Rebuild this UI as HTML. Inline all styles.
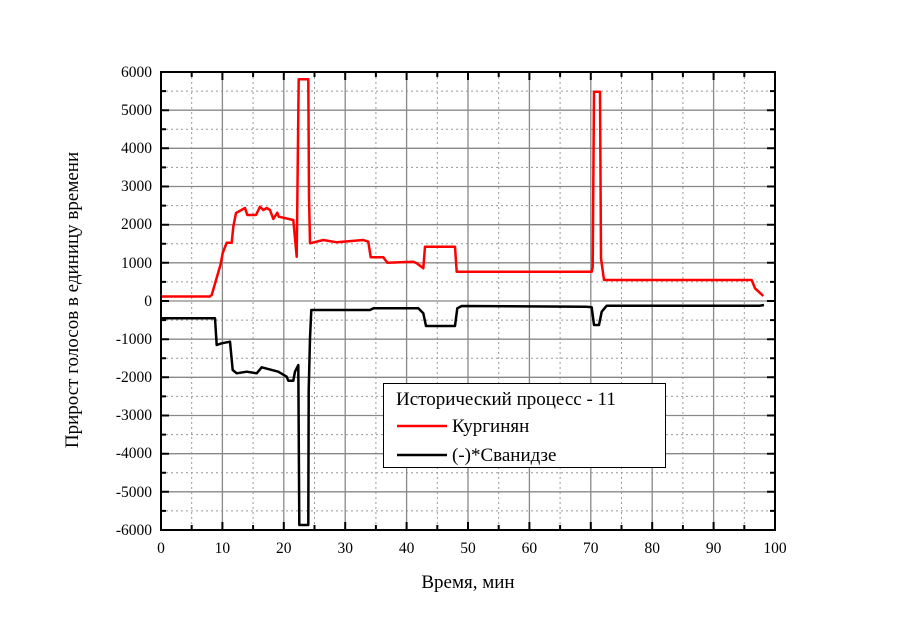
<!DOCTYPE html>
<html><head><meta charset="utf-8"><style>
body{margin:0;background:#fff}
svg{display:block}
text{font-family:"Liberation Serif",serif;fill:#000}
</style></head><body>
<svg width="900" height="636" viewBox="0 0 900 636" xmlns="http://www.w3.org/2000/svg">
<g stroke="#999" stroke-width="1" stroke-dasharray="2,3">
<line x1="191.7" y1="72" x2="191.7" y2="530"/><line x1="253.1" y1="72" x2="253.1" y2="530"/><line x1="314.5" y1="72" x2="314.5" y2="530"/><line x1="375.9" y1="72" x2="375.9" y2="530"/><line x1="437.3" y1="72" x2="437.3" y2="530"/><line x1="498.7" y1="72" x2="498.7" y2="530"/><line x1="560.1" y1="72" x2="560.1" y2="530"/><line x1="621.5" y1="72" x2="621.5" y2="530"/><line x1="682.9" y1="72" x2="682.9" y2="530"/><line x1="744.3" y1="72" x2="744.3" y2="530"/>
<line x1="161" y1="91.1" x2="775" y2="91.1"/><line x1="161" y1="129.2" x2="775" y2="129.2"/><line x1="161" y1="167.4" x2="775" y2="167.4"/><line x1="161" y1="205.6" x2="775" y2="205.6"/><line x1="161" y1="243.8" x2="775" y2="243.8"/><line x1="161" y1="281.9" x2="775" y2="281.9"/><line x1="161" y1="320.1" x2="775" y2="320.1"/><line x1="161" y1="358.3" x2="775" y2="358.3"/><line x1="161" y1="396.4" x2="775" y2="396.4"/><line x1="161" y1="434.6" x2="775" y2="434.6"/><line x1="161" y1="472.8" x2="775" y2="472.8"/><line x1="161" y1="510.9" x2="775" y2="510.9"/>
</g>
<g stroke="#888" stroke-width="1.3">
<line x1="222.4" y1="72" x2="222.4" y2="530"/><line x1="283.8" y1="72" x2="283.8" y2="530"/><line x1="345.2" y1="72" x2="345.2" y2="530"/><line x1="406.6" y1="72" x2="406.6" y2="530"/><line x1="468" y1="72" x2="468" y2="530"/><line x1="529.4" y1="72" x2="529.4" y2="530"/><line x1="590.8" y1="72" x2="590.8" y2="530"/><line x1="652.2" y1="72" x2="652.2" y2="530"/><line x1="713.6" y1="72" x2="713.6" y2="530"/>
<line x1="161" y1="110.2" x2="775" y2="110.2"/><line x1="161" y1="148.3" x2="775" y2="148.3"/><line x1="161" y1="186.5" x2="775" y2="186.5"/><line x1="161" y1="224.7" x2="775" y2="224.7"/><line x1="161" y1="262.8" x2="775" y2="262.8"/><line x1="161" y1="301" x2="775" y2="301"/><line x1="161" y1="339.2" x2="775" y2="339.2"/><line x1="161" y1="377.3" x2="775" y2="377.3"/><line x1="161" y1="415.5" x2="775" y2="415.5"/><line x1="161" y1="453.7" x2="775" y2="453.7"/><line x1="161" y1="491.8" x2="775" y2="491.8"/>
</g>
<g stroke="#000" stroke-width="2">
<path d="M222.4 530v-8M283.8 530v-8M345.2 530v-8M406.6 530v-8M468 530v-8M529.4 530v-8M590.8 530v-8M652.2 530v-8M713.6 530v-8M191.7 530v-5M253.1 530v-5M314.5 530v-5M375.9 530v-5M437.3 530v-5M498.7 530v-5M560.1 530v-5M621.5 530v-5M682.9 530v-5M744.3 530v-5"/>
<path d="M222.4 72v8M283.8 72v8M345.2 72v8M406.6 72v8M468 72v8M529.4 72v8M590.8 72v8M652.2 72v8M713.6 72v8M191.7 72v5M253.1 72v5M314.5 72v5M375.9 72v5M437.3 72v5M498.7 72v5M560.1 72v5M621.5 72v5M682.9 72v5M744.3 72v5"/>
<path d="M161 110.2h8M161 148.3h8M161 186.5h8M161 224.7h8M161 262.8h8M161 301h8M161 339.2h8M161 377.3h8M161 415.5h8M161 453.7h8M161 491.8h8M161 91.1h5M161 129.2h5M161 167.4h5M161 205.6h5M161 243.8h5M161 281.9h5M161 320.1h5M161 358.3h5M161 396.4h5M161 434.6h5M161 472.8h5M161 510.9h5"/>
<path d="M775 110.2h-8M775 148.3h-8M775 186.5h-8M775 224.7h-8M775 262.8h-8M775 301h-8M775 339.2h-8M775 377.3h-8M775 415.5h-8M775 453.7h-8M775 491.8h-8M775 91.1h-5M775 129.2h-5M775 167.4h-5M775 205.6h-5M775 243.8h-5M775 281.9h-5M775 320.1h-5M775 358.3h-5M775 396.4h-5M775 434.6h-5M775 472.8h-5M775 510.9h-5"/>
</g>
<polyline fill="none" stroke="#f00" stroke-width="2.5" stroke-linejoin="round" points="161,296.5 210,296.5 211.7,295 220.7,264 222.7,253 226.7,242.7 231.7,242.7 233.3,226.7 236,213 245,208 247.3,215 256,215 260,206.7 263.3,210 266.7,208 270,210 273.3,219 277.3,212.7 278.7,216.7 293.3,220 296.7,256.7 298.7,79.3 308.3,79.3 309,196.7 310,243.3 323.3,240 336.7,242.3 363.3,240 368.3,241.7 370.7,257.3 383.3,257.3 387.3,262.7 413.3,261.7 416.7,263.3 423.3,268.3 425,246.7 455,246.7 456.7,271.7 591.7,271.7 592.7,266.7 594,91.7 600,91.7 601,258.3 604,280 751.7,280 755,288.3 763.3,296"/>
<polyline fill="none" stroke="#000" stroke-width="2.5" stroke-linejoin="round" points="161.7,318.3 215,318.3 216.7,345 221.7,343.3 230,341.7 232.7,370 236.7,373.3 246.7,371.7 256.7,373.3 261.7,367.3 278.3,371.7 286.7,376.7 288.3,380.7 293.3,380.7 295,371.7 298.3,365 299.3,525 308.3,525 308.7,390 310,338.3 311.3,310 370,310 373.3,308.3 418.3,308.3 423.3,313.3 426,326 455,326 457.3,308.3 461.7,306 586.7,306.7 591.7,307.3 594,325 599,325 601.7,311.7 606.7,305.7 760,305.7 764,305"/>
<rect x="161" y="72" width="614" height="458" fill="none" stroke="#000" stroke-width="2"/>
<g font-size="15.5" text-anchor="end">
<text x="152" y="77">6000</text><text x="152" y="115">5000</text><text x="152" y="153">4000</text><text x="152" y="191">3000</text><text x="152" y="229">2000</text><text x="152" y="268">1000</text><text x="152" y="306">0</text><text x="152" y="344">-1000</text><text x="152" y="382">-2000</text><text x="152" y="420">-3000</text><text x="152" y="458">-4000</text><text x="152" y="497">-5000</text><text x="152" y="535">-6000</text>
</g>
<g font-size="15.5" text-anchor="middle">
<text x="161" y="553">0</text><text x="222.4" y="553">10</text><text x="283.8" y="553">20</text><text x="345.2" y="553">30</text><text x="406.6" y="553">40</text><text x="468" y="553">50</text><text x="529.4" y="553">60</text><text x="590.8" y="553">70</text><text x="652.2" y="553">80</text><text x="713.6" y="553">90</text><text x="775" y="553">100</text>
</g>
<text x="468" y="588" font-size="19" text-anchor="middle">Время, мин</text>
<text transform="translate(78,300) rotate(-90)" font-size="19" text-anchor="middle">Прирост голосов в единицу времени</text>
<rect x="383.5" y="383.5" width="282" height="84" fill="#fff" stroke="#000" stroke-width="1"/>
<text x="396" y="405" font-size="19">Исторический процесс - 11</text>
<line x1="397" y1="426" x2="447" y2="426" stroke="#f00" stroke-width="2.5"/>
<text x="452" y="432" font-size="19">Кургинян</text>
<line x1="397" y1="455" x2="447" y2="455" stroke="#000" stroke-width="2.5"/>
<text x="452" y="461" font-size="19">(-)*Сванидзе</text>
</svg>
</body></html>
